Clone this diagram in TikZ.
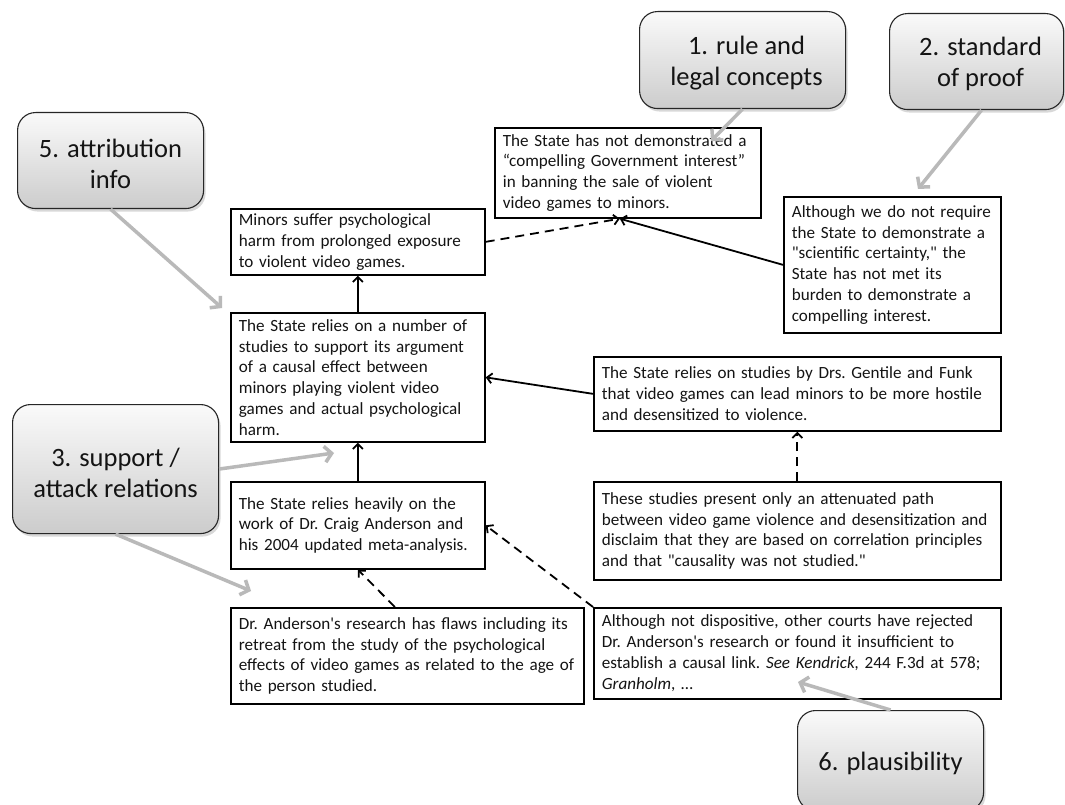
\documentclass[tikz,border=0pt]{standalone}
\usepackage{fontspec}
\setmainfont{Carlito}[Ligatures=TeXOff]
\usetikzlibrary{arrows.meta,shadows,calc}
\begin{document}
\begin{tikzpicture}[x=1pt,y=-1pt,
  box/.style={draw=black, line width=1.7pt, fill=white, inner xsep=8pt, inner ysep=0pt,
    align=left, anchor=north west, text=black!92,
    font=\fontsize{17.1}{20.8}\selectfont,
    execute at begin node={\frenchspacing\hyphenpenalty=10000\relax\rightskip=0pt plus 3em minus 10pt\relax}},
  callout/.style={draw=black!85, line width=1.1pt, rounded corners=18pt,
    top color=gray!4, bottom color=gray!40,
    drop shadow={shadow xshift=2pt, shadow yshift=-3pt, opacity=0.3},
    anchor=north west, inner sep=0pt},
  ctext/.style={align=center, inner sep=0pt, text=black!92,
    font=\fontsize{26.5}{31}\selectfont},
  conn/.style={draw=black, line width=1.8pt, -{Straight Barb[length=5pt,width=10pt]}},
  dconn/.style={conn, dash pattern=on 9pt off 6pt},
  garrow/.style={draw=gray!55, line width=3.5pt, -{Straight Barb[length=7pt,width=16pt]}}
]
\useasboundingbox (0,0) rectangle (1065,805);
\fill[white] (0,0) rectangle (1065,805);

% argument boxes
\node[box, minimum width=266pt, minimum height=90pt, text width=250pt] (A) at (494,127)
  {The State has not demonstrated a\\“compelling Government interest”\\in banning the sale of violent\\video games to minors.};
\node[box, minimum width=217pt, minimum height=136pt, text width=201pt] (B) at (783,196)
  {Although we do not require\\the State to demonstrate a\\"scientific certainty," the\\State has not met its\\burden to demonstrate a\\compelling interest.};
\node[box, minimum width=254pt, minimum height=66pt, text width=238pt] (C) at (230,208)
  {Minors suffer psychological\\harm from prolonged exposure\\to violent video games.};
\node[box, minimum width=254pt, minimum height=129pt, text width=238pt] (D) at (230,312)
  {The State relies on a number of\\studies to support its argument\\of a causal effect between\\minors playing violent video\\games and actual psychological\\harm.};
\node[box, minimum width=254pt, minimum height=87pt, text width=238pt] (E) at (230,481)
  {The State relies heavily on the\\work of Dr. Craig Anderson and\\his 2004 updated meta-analysis.};
\node[box, minimum width=353pt, minimum height=96pt, text width=337pt] (F) at (230,607)
  {Dr. Anderson's research has flaws including its\\retreat from the study of the psychological\\effects of video games as related to the age of\\the person studied.};
\node[box, minimum width=407pt, minimum height=74pt, text width=391pt] (G) at (593,356)
  {The State relies on studies by Drs. Gentile and Funk\\that video games can lead minors to be more hostile\\and desensitized to violence.};
\node[box, minimum width=407pt, minimum height=98pt, text width=391pt] (H) at (593,481)
  {These studies present only an attenuated path\\between video game violence and desensitization and\\disclaim that they are based on correlation principles\\and that "causality was not studied."};
\node[box, minimum width=407pt, minimum height=91pt, text width=391pt] (I) at (593,607)
  {Although not dispositive, other courts have rejected\\Dr. Anderson's research or found it insufficient to\\establish a causal link. \textit{See Kendrick,} 244 F.3d at 578;\\\textit{Granholm}, …};

% connectors
\coordinate (Ain) at ($(A.south west)!0.47!(A.south east)$);
\draw[dconn] (C.east) -- (Ain);
\draw[conn] (B.west) -- (Ain);
\draw[conn] (D.north) -- (C.south);
\draw[conn] (E.north) -- (D.south);
\draw[conn] (G.west) -- (D.east);
\draw[dconn] (H.north) -- (G.south);
\draw[dconn] ($(F.north west)!0.465!(F.north east)$) -- (E.south);
\draw[dconn] (I.north west) -- (E.east);

% callouts
\node[callout, minimum width=206pt, minimum height=97pt] (c1) at (639,11) {};
\node[ctext] at ($(c1.center)+(4,3)$) {1. rule and\\legal concepts};
\node[callout, minimum width=174pt, minimum height=96pt] (c2) at (889,13) {};
\node[ctext] at ($(c2.center)+(4,2)$) {2. standard\\of proof};
\node[callout, minimum width=186pt, minimum height=96pt] (c5) at (17,112) {};
\node[ctext] at ($(c5.center)+(0,3)$) {5. attribution\\info};
\node[callout, minimum width=206pt, minimum height=129pt] (c3) at (12,404) {};
\node[ctext] at ($(c3.center)+(0,4)$) {3. support /\\attack relations};
\node[callout, minimum width=186pt, minimum height=100pt] (c6) at (797,710) {};
\node[ctext, anchor=base] at ($(c6.north)+(0,60)$) {6. plausibility};

% callout pointers
\coordinate (t1) at (711,141);
\coordinate (t2) at (918,189);
\coordinate (t5) at (222,308);
\coordinate (t3a) at (334,453);
\coordinate (t3b) at (251,591);
\coordinate (t6) at (798,682);
\draw[garrow] (c1.south) -- (t1);
\draw[garrow] ($(c2.south)+(5,0)$) -- (t2);
\draw[garrow] (c5.south) -- (t5);
\draw[garrow] (c3.east) -- (t3a);
\draw[garrow] (c3.south) -- (t3b);
\draw[garrow] (c6.north) -- (t6);
\end{tikzpicture}
\end{document}
